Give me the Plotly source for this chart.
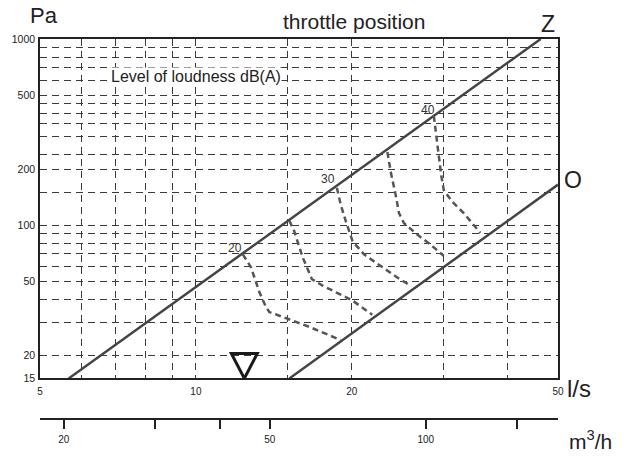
import math
import plotly.graph_objects as go

# ---- data ----
x_ticks = [5, 6, 7, 8, 9, 10, 15, 20, 30, 40, 50]
x_labels = ["5", "", "", "", "", "10", "", "20", "", "", "50"]
y_ticks = [15, 20, 30, 40, 50, 60, 70, 80, 90, 100, 150, 200, 240, 300, 350,
           400, 450, 500, 600, 700, 800, 900, 1000]
y_labels = ["15", "20", "", "", "50", "", "", "", "", "100", "", "200", "", "",
            "", "", "", "500", "", "", "", "", "1000"]
m3h_ticks = [20, 30, 40, 50, 100, 150]
m3h_labels = ["20", "", "", "50", "100", ""]

# throttle position lines (l/s, Pa)
z_q = [5.68, 46.3]
z_p = [15, 1000]
o_q = [15.15, 50]
o_p = [15, 165]

# loudness curves dB(A) (l/s, Pa)
c20_q = [12.32, 12.78, 13.26, 13.66, 13.86, 15.04, 16.55, 19.04]
c20_p = [69.6, 59.1, 43.6, 36.2, 34.1, 31.4, 28.4, 24.1]
c25_q = [15.15, 15.48, 16.08, 16.75, 17.56, 20.06, 21.9]
c25_p = [105.5, 92.7, 66.8, 51.2, 47.3, 39.3, 33.0]
c30_q = [18.71, 19.04, 19.47, 19.91, 20.06, 21.11, 22.73, 24.47, 25.96]
c30_p = [158.9, 128.4, 104.8, 88.9, 82.0, 69.6, 60.4, 52.3, 47.3]
c35_q = [23.42, 23.77, 24.3, 24.66, 25.2, 26.75, 28.37, 30.09]
c35_p = [246.9, 193.2, 145.1, 116, 102.6, 88.9, 78.6, 68.3]
c40_q = [28.79, 29.0, 29.22, 29.43, 29.75, 30.09, 31.22, 32.88, 35.4]
c40_p = [386.5, 328.4, 273.3, 227.4, 185.4, 154.3, 133.8, 116, 90.8]
curves = [(c20_q, c20_p), (c25_q, c25_p), (c30_q, c30_p), (c35_q, c35_p), (c40_q, c40_p)]

curve_labels = ["20", "30", "40"]
curve_label_q = [11.87, 17.96, 28.04]
curve_label_p = [75.5, 178, 416]

marker_q = 12.4   # triangle position on flow axis
marker_p = 15

FONT = "Liberation Sans, Arial, sans-serif"
LINE = "#444444"
GRID = "#3a3a3a"
TXT = "#222222"

fig = go.Figure()

for q, p in [(z_q, z_p), (o_q, o_p)]:
    fig.add_trace(go.Scatter(x=q, y=p, mode="lines", line=dict(color=LINE, width=2.5),
                             hoverinfo="skip", showlegend=False))
for q, p in curves:
    fig.add_trace(go.Scatter(x=q, y=p, mode="lines",
                             line=dict(color="#555555", width=2.5, dash="6px,4px"),
                             hoverinfo="skip", showlegend=False))

# invisible trace to make the m3/h axis render
fig.add_trace(go.Scatter(x=[m3h_ticks[0]], y=[y_ticks[0]], xaxis="x2", yaxis="y",
                         mode="markers", marker=dict(opacity=0), hoverinfo="skip",
                         showlegend=False))

W, H = 624, 457
ml, mr, mt, mb = 38, 66, 39, 34
plot_bottom_px = 382
pw = W - ml - mr
ph = H - mt - mb
ydom0 = ((H - mb) - plot_bottom_px) / ph


def px2paper(px, py):
    return (px - ml) / pw, ((H - mb) - py) / ph


fig.update_layout(
    width=W, height=H,
    margin=dict(l=ml, r=mr, t=mt, b=mb),
    paper_bgcolor="white", plot_bgcolor="white",
    font=dict(family=FONT, color=TXT),
    xaxis=dict(type="log", range=[math.log10(5), math.log10(50)], domain=[0, 1],
               anchor="y", tickmode="array", tickvals=x_ticks, ticktext=x_labels,
               ticks="", showgrid=True, gridcolor=GRID, gridwidth=1, griddash="7px,5px",
               showline=True, linecolor="#222222", linewidth=1.5, mirror=True,
               zeroline=False, tickfont=dict(size=10, color=TXT),
               ticklabelstandoff=3),
    yaxis=dict(type="log", range=[math.log10(15), math.log10(1000)], domain=[ydom0, 1],
               anchor="x", tickmode="array", tickvals=y_ticks, ticktext=y_labels,
               ticks="", showgrid=True, gridcolor=GRID, gridwidth=1, griddash="7px,5px",
               showline=True, linecolor="#222222", linewidth=1.5, mirror=True,
               zeroline=False, tickfont=dict(size=10.5, color=TXT),
               ticklabelstandoff=1),
    xaxis2=dict(type="log", range=[math.log10(18), math.log10(180)], overlaying="x",
                anchor="free", position=0, side="bottom", tickmode="array",
                tickvals=m3h_ticks, ticktext=m3h_labels, ticks="outside", ticklen=9,
                tickwidth=1.5, tickcolor="#222222", showgrid=False, showline=True,
                linecolor="#222222", linewidth=1.5, zeroline=False,
                tickfont=dict(size=10, color=TXT), ticklabelstandoff=2),
    showlegend=False,
)

# triangle marker drawn in pixel size anchored to data position
fig.add_shape(type="path", xref="x", yref="y", xsizemode="pixel", ysizemode="pixel",
              xanchor=marker_q, yanchor=marker_p,
              path="M -13,25 L 13,25 L 0,0 Z",
              line=dict(color="#1a1a1a", width=3), fillcolor="rgba(0,0,0,0)")

anns = []
for t, q, p in zip(curve_labels, curve_label_q, curve_label_p):
    anns.append(dict(x=math.log10(q), y=math.log10(p), xref="x", yref="y", text=t,
                     showarrow=False, font=dict(size=12, color="#333333")))

anns.append(dict(x=math.log10(10), y=math.log10(625), xref="x", yref="y",
                 text="Level of loudness dB(A)", showarrow=False, bgcolor="white",
                 borderpad=0, font=dict(size=16, color=TXT)))


def paper_text(txt, px, py, size):
    xp, yp = px2paper(px, py)
    return dict(x=xp, y=yp, xref="paper", yref="paper", text=txt, showarrow=False,
                xanchor="center", yanchor="middle", font=dict(size=size, color=TXT))


anns += [
    paper_text("Pa", 42, 15, 22),
    paper_text("throttle position", 353, 21, 21),
    paper_text("Z", 548, 24, 23),
    paper_text("O", 573, 181, 23),
    paper_text("l/s", 579, 392, 24),
    paper_text("m<sup>3</sup>/h", 591, 444, 21),
]
fig.update_layout(annotations=anns)

fig.write_html("out.html")
